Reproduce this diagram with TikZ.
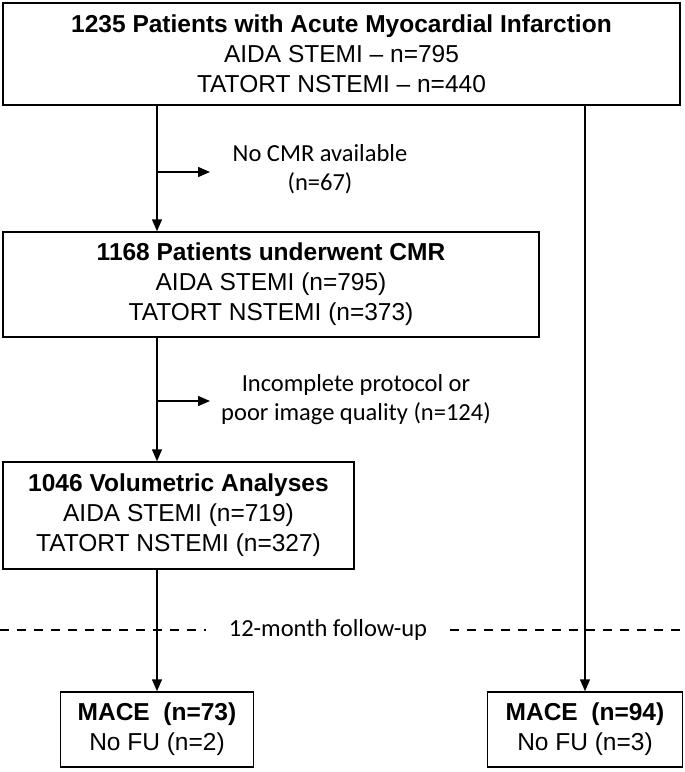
\documentclass[tikz,border=0pt]{standalone}
\usepackage{fontspec}
\setmainfont{Liberation Sans}
\newfontfamily\calfont{Carlito}
\usetikzlibrary{arrows.meta,positioning}

\begin{document}
\begin{tikzpicture}[x=1pt,y=-1pt,
   box/.style={draw,line width=1.5pt,inner sep=0pt,align=center,font=\fontsize{24.5}{30}\selectfont},
   note/.style={align=center,inner sep=0pt,font=\calfont\fontsize{24.5}{29}\selectfont},
   arr/.style={line width=1.5pt,-{Triangle[length=12pt,width=10pt]}}]
   \useasboundingbox (0,0) rectangle (685,772);
   % boxes of the flow
   \node[box,minimum width=677pt,minimum height=102pt] (all) at (341.5,54)
      {\textbf{1235 Patients with Acute Myocardial Infarction}\\AIDA STEMI – n=795\\TATORT NSTEMI – n=440};
   \node[box,minimum width=536pt,minimum height=105pt] (cmr) at (271,284.5)
      {\textbf{1168 Patients underwent CMR}\\AIDA STEMI (n=795)\\TATORT NSTEMI (n=373)};
   \node[box,minimum width=351pt,minimum height=107pt] (vol) at (178.5,515.5)
      {\textbf{1046 Volumetric Analyses}\\AIDA STEMI (n=719)\\TATORT NSTEMI (n=327)};
   \node[box,minimum width=193pt,minimum height=75pt] (macel) at (157,729.5)
      {\textbf{MACE\ \ (n=73)}\\No FU (n=2)};
   \node[box,minimum width=195pt,minimum height=75pt] (macer) at (585,729.5)
      {\textbf{MACE\ \ (n=94)}\\No FU (n=3)};
   % side notes
   \node[note] (nocmr) at (320,169) {No CMR available\\(n=67)};
   \node[note] (poor) at (356,400) {Incomplete protocol or\\poor image quality (n=124)};
   \node[note,inner xsep=23pt] (fu) at (328,630) {12-month follow-up};
   \coordinate (l) at (157,0);
   \coordinate (r) at (585,0);
   \coordinate (t1) at (210,172);
   \coordinate (t2) at (210,401);
   % connectors
   \draw[arr] (l |- all.south) -- (l |- cmr.north);
   \draw[arr] (l |- cmr.south) -- (l |- vol.north);
   \draw[arr] (l |- vol.south) -- (macel);
   \draw[arr] (r |- all.south) -- (macer);
   \foreach \tip in {t1, t2} % branches to the side
   \draw[arr] (l |- \tip) -- (\tip);
   \draw[line width=1.2pt,dash pattern=on 9pt off 8pt] (0,630) -- (fu.west);
   \draw[line width=1.2pt,dash pattern=on 9pt off 8pt] (fu.east) -- (685,630);
\end{tikzpicture}
\end{document}
